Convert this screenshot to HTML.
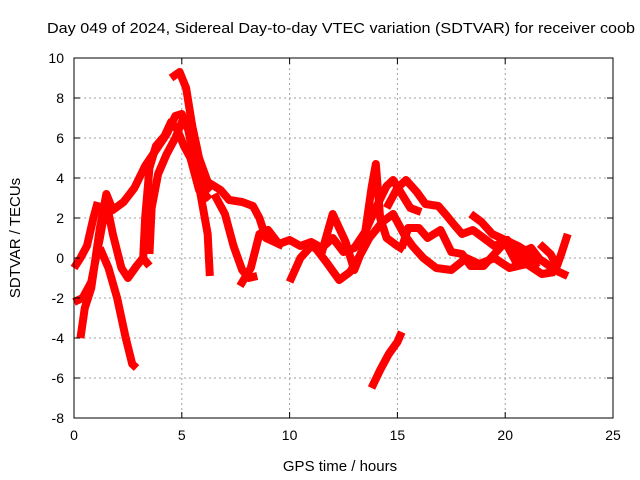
<!DOCTYPE html>
<html><head><meta charset="utf-8"><style>
body{margin:0;background:#fff}
svg{display:block;font-family:"Liberation Sans",sans-serif}
</style></head><body>
<svg id="c" width="640" height="480">
<text x="47" y="33" font-size="15" textLength="588" lengthAdjust="spacingAndGlyphs">Day 049 of 2024, Sidereal Day-to-day VTEC variation (SDTVAR) for receiver coob</text>
<text x="340" y="471" font-size="15" text-anchor="middle">GPS time / hours</text>
<text x="20" y="238" font-size="15" text-anchor="middle" transform="rotate(-90 20 238)">SDTVAR / TECUs</text>
<g id="grid"></g><g id="marks"></g><g id="axes"></g>
</svg>
<script>
const xTicks=[0,5,10,15,20,25];
const yTicks=[-8,-6,-4,-2,0,2,4,6,8,10];
const track1=[[0,-0.5],[0.3,0],[0.6,0.6],[0.9,2],[1.1,2.8]];
const track2=[[0.3,-4],[0.5,-2.5],[0.8,-1.5],[1.0,0],[1.2,1.5],[1.5,3.2],[1.8,2.4],[2.3,2.8],[2.8,3.5],[3.3,4.6],[3.8,5.4],[4.3,6.2],[4.7,7.1],[5.0,7.2],[5.3,6.4],[5.6,4.8],[5.9,3.0],[6.2,1.2],[6.3,-0.9]];
const track3=[[0,-2.2],[0.4,-2],[0.8,-1.2],[1.2,1],[1.5,2.8],[1.8,1.2],[2.2,-0.5],[2.5,-1.0],[2.9,-0.4],[3.2,0],[3.5,-0.4]];
const track4=[[1.2,0.5],[1.6,-0.5],[2.0,-2],[2.4,-4],[2.7,-5.3],[2.9,-5.5]];
const track5=[[4.5,9],[4.9,9.3],[5.2,8.5],[5.5,6.5],[5.8,5],[6.2,3.8],[6.8,3.4],[7.2,2.9],[7.8,2.8],[8.3,2.6],[8.6,2],[8.9,1],[9.3,0.8],[9.7,0.6]];
const track6=[[3.2,-0.2],[3.3,2],[3.5,4.5],[3.8,5.6],[4.2,6.1],[4.5,6.8],[4.8,6.4],[5.1,5.6],[5.4,5],[5.8,3.4],[6.1,3.0],[6.3,3.2]];
const track7=[[3.5,0.2],[3.6,2.5],[3.9,4.2],[4.3,5.2],[4.7,6.0],[5.0,6.8],[5.4,7.0],[5.7,5.5],[6.0,3.6],[6.3,3.3]];
const track8=[[6.5,3.2],[7.0,2.2],[7.4,0.6],[7.8,-0.6],[8.1,-1.0],[8.5,-0.9]];
const track9=[[7.7,-1.4],[8.2,-0.5],[8.6,1.2],[9.0,1.4],[9.5,0.7],[10,0.9],[10.5,0.6],[11,0.8],[11.5,0.5],[12,1.0],[12.5,0.3],[13,0.5],[13.5,1.3],[14,2.5],[14.5,3.6],[14.8,3.9],[15.2,3.2],[15.6,2.5],[16.1,2.3]];
const track10=[[10,-1.2],[10.5,0],[11,0.6],[11.5,0.3],[12,2.2],[12.6,0.8],[13,-0.6],[13.4,0.5],[13.8,3.5],[14,4.7],[14.2,2],[14.5,1],[15,0.6],[15.3,0.4]];
const track11=[[11.2,0.5],[11.7,-0.2],[12.3,-1.1],[12.8,-0.7],[13.3,0.2],[13.7,1.0],[14.3,1.8],[14.8,2.2],[15.3,1.2],[15.7,0.6],[16.2,0],[16.8,-0.5],[17.5,-0.6],[18.2,0],[18.8,-0.3],[19.5,0],[20.2,-0.5],[21,-0.3],[21.7,-0.8],[22.3,-0.7]];
const track12=[[14.5,2.5],[15,3.5],[15.4,3.9],[15.9,3.3],[16.3,2.7],[16.9,2.6],[17.3,2.1],[17.6,1.7],[18,1.2],[18.5,1.4],[19,1],[19.5,0.6],[20.1,0.9],[20.6,0.2],[21.2,0.5],[21.7,-0.2]];
const track13=[[15.2,0.5],[15.5,1.5],[16,1.5],[16.4,1.0],[17,1.4],[17.5,0.3],[18,0.2],[18.4,-0.4],[19,-0.4],[19.5,0.2],[20,0.8],[20.5,-0.2],[21,0.1],[21.5,-0.5]];
const track14=[[18.4,2.2],[18.9,1.8],[19.4,1.2],[20,0.9],[20.6,0.6],[21.2,0.2],[21.8,-0.2],[22.3,-0.6],[22.9,-0.9]];
const track15=[[21.6,0.7],[22.1,0.2],[22.4,-0.4],[22.6,0.2],[22.9,1.2]];
const track16=[[13.8,-6.5],[14.2,-5.6],[14.6,-4.8],[15.0,-4.2],[15.2,-3.7]];
const tracks=[track1,track2,track3,track4,track5,track6,track7,track8,track9,track10,track11,track12,track13,track14,track15,track16];
const X0=74,X1=613,Y0=418,Y1=58,xMin=0,xMax=25,yMin=-8,yMax=10;
const xs=t=>X0+(t-xMin)/(xMax-xMin)*(X1-X0);
const ys=v=>Y0-(v-yMin)/(yMax-yMin)*(Y0-Y1);
const NS="http://www.w3.org/2000/svg";
function mk(tag,attrs,parent){const e=document.createElementNS(NS,tag);for(const k in attrs)e.setAttribute(k,attrs[k]);parent.appendChild(e);return e;}
const grid=document.getElementById('grid'),axes=document.getElementById('axes'),marks=document.getElementById('marks');
xTicks.forEach(t=>{
  if(t>xMin&&t<xMax){const g=mk('line',{x1:xs(t),x2:xs(t),y1:Y1,y2:Y0,stroke:'#a0a0a0','stroke-dasharray':'2,3'},grid);
  
  }
  mk('line',{x1:xs(t),x2:xs(t),y1:Y0,y2:Y0-6,stroke:'#000'},axes);
  mk('line',{x1:xs(t),x2:xs(t),y1:Y1,y2:Y1+6,stroke:'#000'},axes);
  const l=mk('text',{x:xs(t),y:Y0+22,'font-size':14,'text-anchor':'middle'},axes);l.textContent=t;
  
  
});
yTicks.forEach(v=>{
  if(v>yMin&&v<yMax){const g=mk('line',{x1:X0,x2:X1,y1:ys(v),y2:ys(v),stroke:'#a0a0a0','stroke-dasharray':'2,3'},grid);
  
  }
  mk('line',{x1:X0,x2:X0+6,y1:ys(v),y2:ys(v),stroke:'#000'},axes);
  mk('line',{x1:X1,x2:X1-6,y1:ys(v),y2:ys(v),stroke:'#000'},axes);
  const l=mk('text',{x:X0-10,y:ys(v)+5,'font-size':14,'text-anchor':'end'},axes);l.textContent=v;
  
  
});
const b=mk('rect',{x:X0,y:Y1,width:X1-X0,height:Y0-Y1,fill:'none',stroke:'#000'},axes);


tracks.forEach((tr,i)=>{
  const p=mk('polyline',{points:tr.map(d=>xs(d[0])+','+ys(d[1])).join(' '),fill:'none',stroke:'#ff0000','stroke-width':8,'stroke-linejoin':'round','stroke-linecap':'butt'},marks);
  
  
});
</script>
</body></html>
